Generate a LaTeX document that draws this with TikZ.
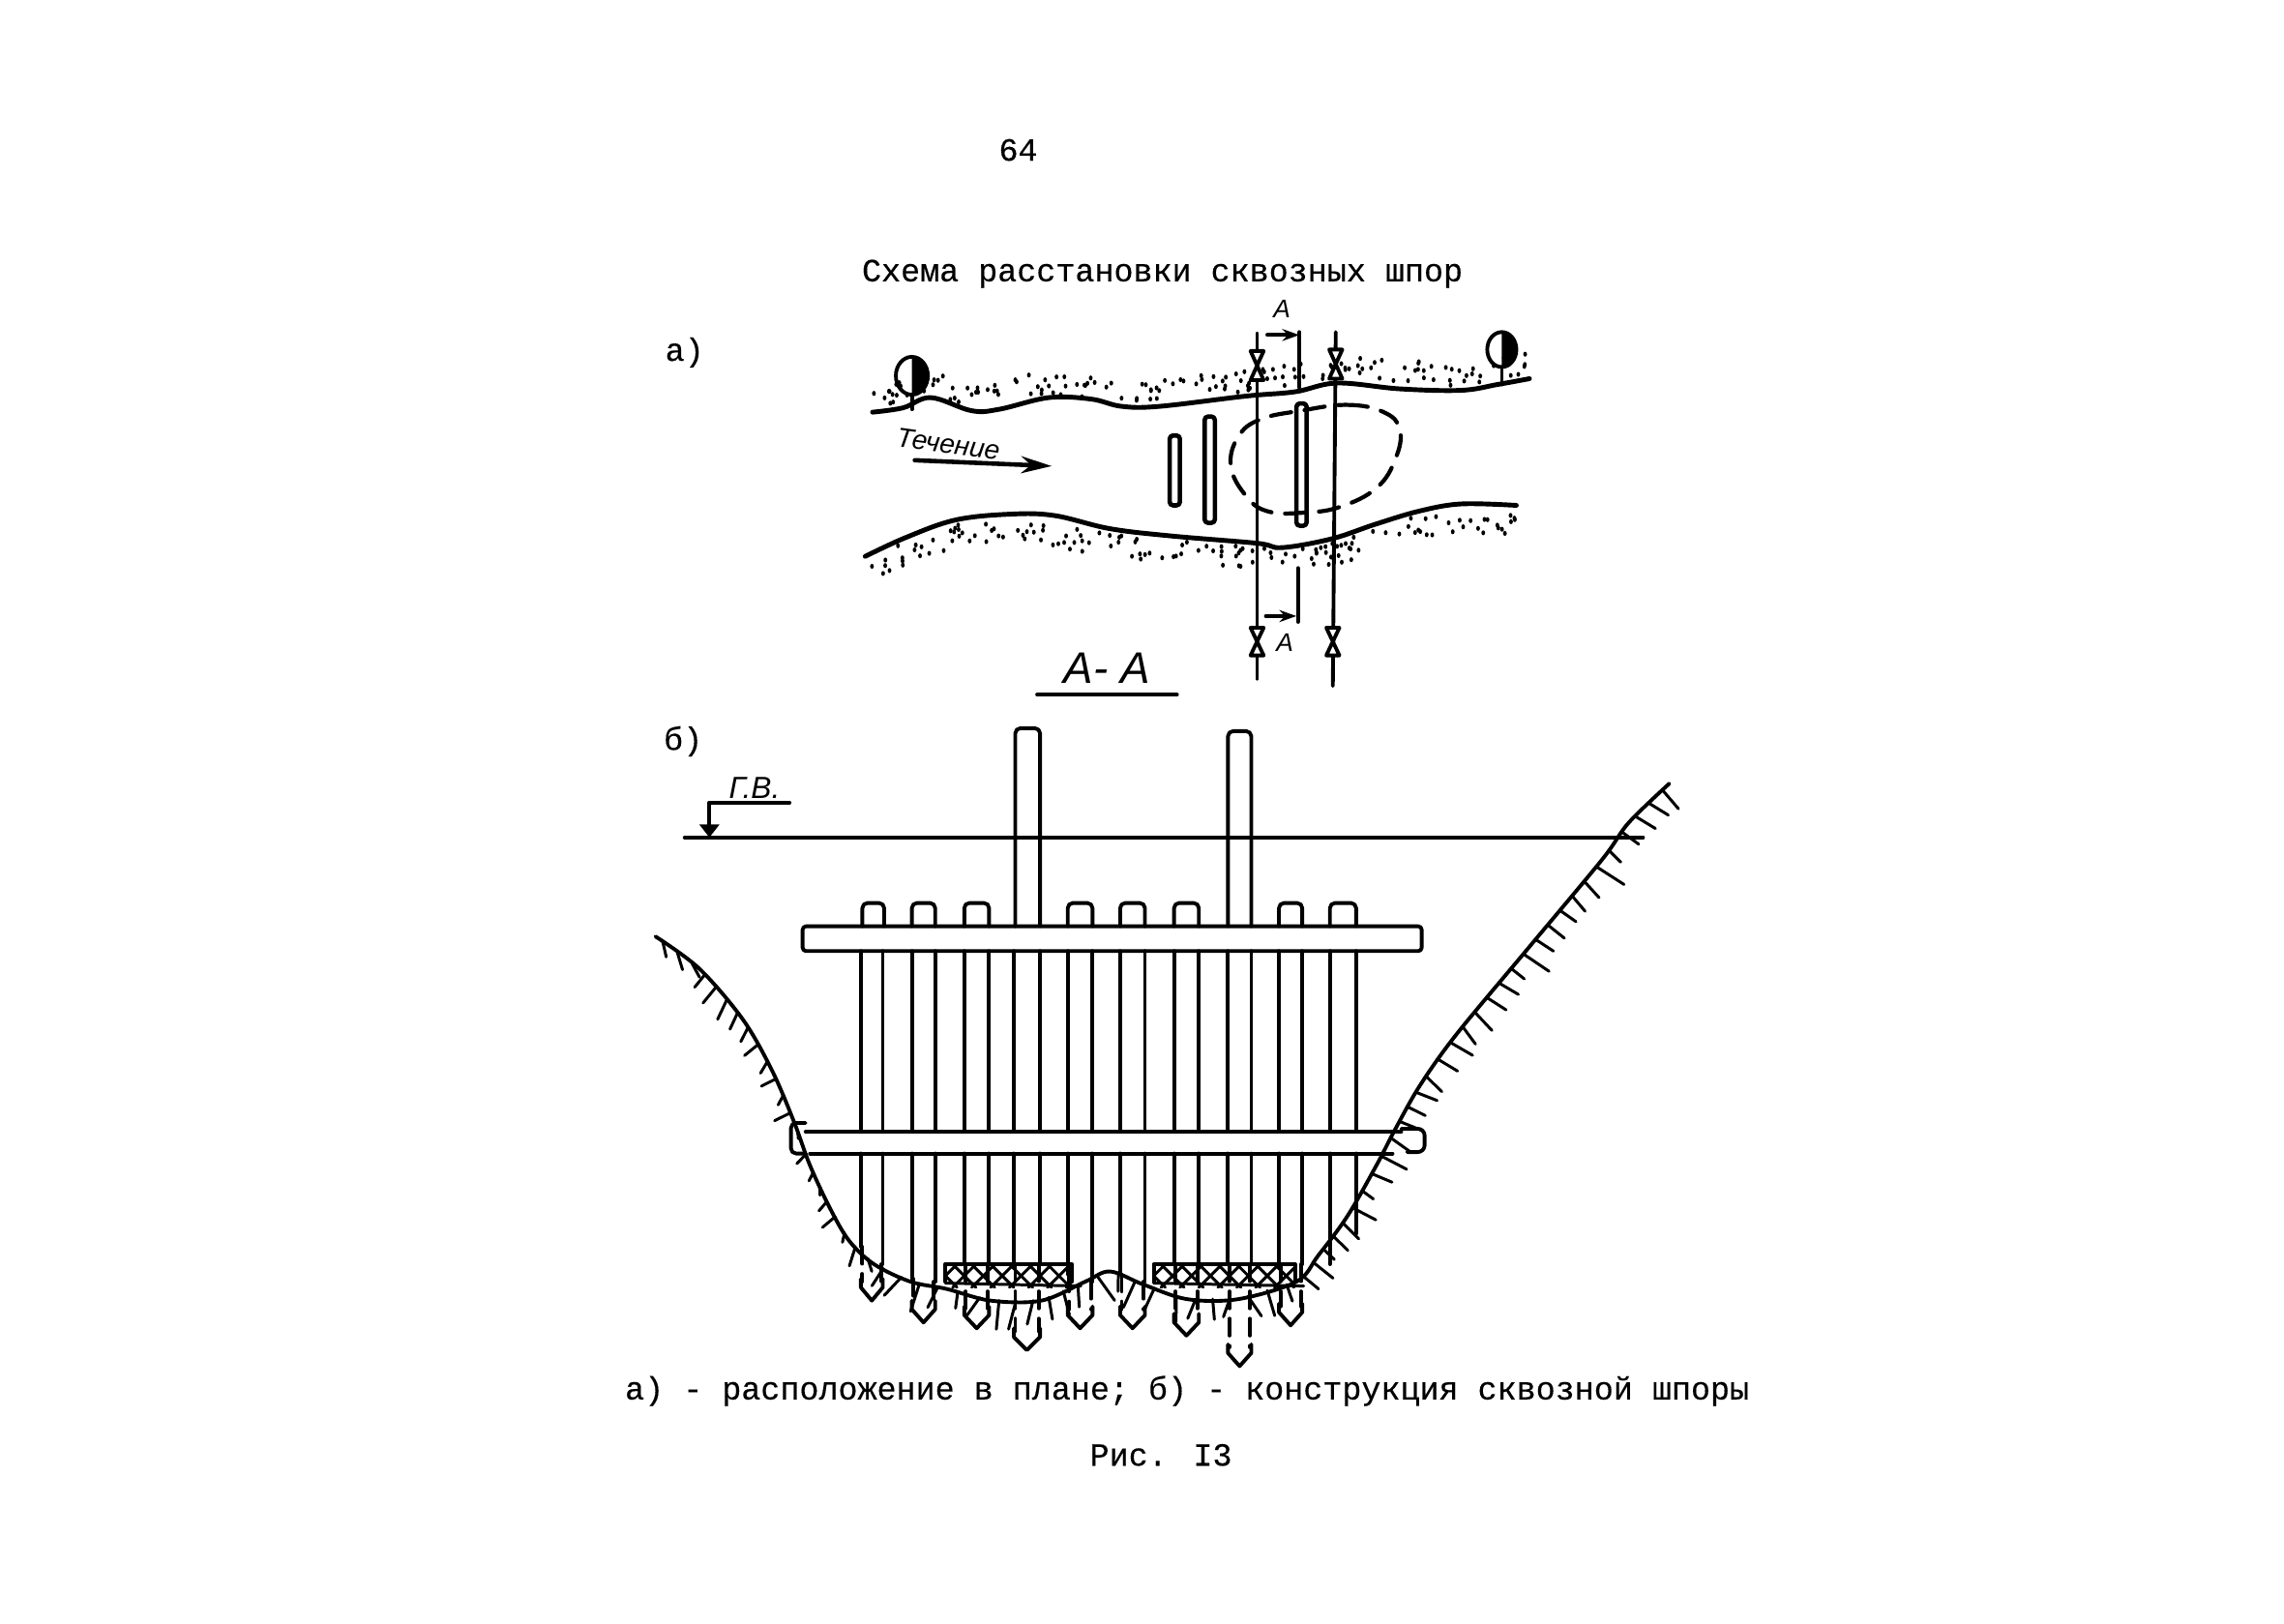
\documentclass[tikz,border=0pt]{standalone}
\usepackage{fontspec}
\setmainfont{Liberation Mono}[BoldFont=Liberation Mono,BoldFeatures={FakeBold=0.35}]
\newfontfamily\hand{Liberation Sans}
\usetikzlibrary{arrows.meta}
\tikzset{
  ink/.style={line width=1.1pt,line cap=round,line join=round,black},
  thin ink/.style={line width=0.85pt,line cap=round,line join=round,black},
  typed/.style={font=\bfseries\fontsize{9.5pt}{11pt}\selectfont,inner sep=0pt,black},
  drawn/.style={font=\hand\itshape\fontsize{7.5pt}{8pt}\selectfont,inner sep=0pt,black},
}
\begin{document}
\begin{tikzpicture}[x=0.15057mm,y=-0.15057mm]
\useasboundingbox[fill=white] (0,0) rectangle (1568,1114.4);
\pgfmathsetseed{4242}

% texts
\node[typed] (pagenum) at (699,103) {64};
\node[typed] (title) at (798,188) {Схема расстановки сквозных шпор};
\node[typed] (labela) at (470,242) {а)};
\node[typed] (labelb) at (469,509) {б)};
\node[typed] (caption) at (815,955) {а) - расположение в плане; б) - конструкция сквозной шпоры};
\node[typed] (fig) at (797,999) {Рис. I3};

% --- plan: banks
\draw[ink,line width=1.4pt] plot[smooth,tension=0.6] coordinates {(599,283) (620,280) (639,273) (667,282) (686,281) (720,273) (749,274) (770,279) (796,279) (855,272) (889,269) (918,263) (961,267) (1003,268) (1028,264) (1050,260)};
\draw[ink,line width=1.4pt] plot[smooth,tension=0.6] coordinates {(594,382) (622,369) (656,357) (694,353) (724,354) (762,363) (804,368) (863,373) (880,376) (914,370) (944,360) (974,351) (1003,346) (1041,347)};

% sand along the banks
\foreach \xa/\ya/\xb/\yb in {599/283/639/273,639/273/667/282,667/282/720/273,720/273/770/279,770/279/855/272,855/272/918/263,918/263/1003/268,1003/268/1050/260}{
  \pgfmathtruncatemacro{\nd}{max(1,(\xb-\xa)/3)}
  \foreach \i in {1,...,\nd}{
    \pgfmathsetmacro{\tt}{rnd}
    \pgfmathsetmacro{\px}{\xa+\tt*(\xb-\xa)}
    \pgfmathsetmacro{\py}{\ya+\tt*(\yb-\ya)-3-rnd*15}
    \fill[black] (\px,\py) ellipse (1.3 and 1.7);
  }
}
\foreach \xa/\ya/\xb/\yb in {594/382/622/369,622/369/656/357,656/357/694/353,694/353/762/363,762/363/863/373,863/373/914/370,914/370/974/351,974/351/1041/347}{
  \pgfmathtruncatemacro{\nd}{max(1,(\xb-\xa)/3)}
  \foreach \i in {1,...,\nd}{
    \pgfmathsetmacro{\tt}{rnd}
    \pgfmathsetmacro{\px}{\xa+\tt*(\xb-\xa)}
    \pgfmathsetmacro{\py}{\ya+\tt*(\yb-\ya)+3+rnd*16}
    \fill[black] (\px,\py) ellipse (1.3 and 1.7);
  }
}

% trees
\draw[ink] (626,258) ellipse (11 and 13);
\fill[black] (626,245) arc[start angle=-90,end angle=90,x radius=11,y radius=13] -- cycle;
\draw[ink] (626,271) -- (626,281);
\draw[ink] (1031,240) ellipse (10 and 12);
\fill[black] (1031,228) arc[start angle=-90,end angle=90,x radius=10,y radius=12] -- cycle;
\draw[ink] (1031,252) -- (1031,264);

% spurs in plan
\draw[ink,line width=1.3pt,rounded corners=1pt] (803,299) rectangle (810,347);
\draw[ink,line width=1.3pt,rounded corners=1pt] (827,286) rectangle (834,359);
\draw[ink,line width=1.3pt,rounded corners=1pt] (890,277) rectangle (897,361);

% scour outline
\draw[ink,line width=1.2pt,dash pattern=on 6pt off 4pt] plot[smooth cycle,tension=0.7] coordinates {(893,282) (925,278) (950,283) (961,295) (958,315) (945,335) (920,348) (895,352) (870,351) (855,340) (845,320) (850,300) (865,288)};

% section lines
\draw[ink] (863,229) -- (863,466);
\draw[ink] (917,228) -- (915,471);
\foreach \px/\ya/\yb in {863/241/261,917/240/260,863/431/450,915/431/450}{
  \draw[ink,fill=white] (\px-4.5,\ya) -- (\px+4.5,\ya) -- (\px-4.5,\yb) -- (\px+4.5,\yb) -- cycle;
}
\draw[ink] (892,228) -- (892,266);
\draw[ink,-{Stealth[length=5pt,width=3.5pt]}] (870,230) -- (892,230);
\draw[ink] (891,390) -- (891,427);
\draw[ink,-{Stealth[length=5pt,width=3.5pt]}] (869,423) -- (890,423);
\node[drawn] (secta) at (880,212) {А};
\node[drawn] (sectb) at (882,441) {А};

% flow
\node[drawn,rotate=-8,font=\hand\itshape\fontsize{8pt}{9pt}\selectfont] (flow) at (651,305) {Течение};
\coordinate (flowa) at (628,316);
\coordinate (flowb) at (722,320);
\draw[ink,line width=1.3pt,-{Stealth[length=9pt,width=5pt]}] (flowa) -- (flowb);

% A-A
\node[drawn,font=\hand\itshape\fontsize{13pt}{14pt}\selectfont] (secttitle) at (760,459) {А- А};
\draw[ink] (712,477) -- (808,477);

% --- section: ground
\draw[ink] plot[smooth,tension=0.55] coordinates {(450,643) (480,665) (510,700) (530,735) (545,770) (556,800) (570,830) (583,852) (600,868) (625,880) (650,885) (680,893) (715,893) (745,880) (762,873) (785,882) (815,892) (850,892) (890,880) (905,862) (925,835) (945,800) (958,775) (975,745) (1000,710) (1050,650) (1100,590) (1118,565) (1146,538)};
% ground hatching
\foreach \xa/\ya/\xb/\yb in {450/643/480/665,480/665/510/700,510/700/530/735,530/735/545/770,545/770/556/800,556/800/570/830,570/830/583/852,583/852/600/868,600/868/625/880,625/880/650/885,650/885/680/893,680/893/715/893,715/893/745/880,745/880/762/873,762/873/785/882,785/882/815/892,815/892/850/892,850/892/890/880,890/880/905/862,905/862/925/835,925/835/945/800,945/800/958/775,958/775/975/745,975/745/1000/710,1000/710/1050/650,1050/650/1100/590,1100/590/1118/565,1118/565/1146/538}{
  \pgfmathsetmacro{\sl}{veclen(\xb-\xa,\yb-\ya)}
  \pgfmathtruncatemacro{\nd}{max(1,round(\sl/13))}
  \foreach \i in {1,...,\nd}{
    \pgfmathsetmacro{\tt}{(\i-0.5)/\nd}
    \pgfmathsetmacro{\px}{\xa+\tt*(\xb-\xa)}
    \pgfmathsetmacro{\py}{\ya+\tt*(\yb-\ya)}
    \pgfmathsetmacro{\tl}{(11+rnd*9)/\sl}
    \pgfmathsetmacro{\jx}{rnd*12-6+(\xa<600)*7}
    \pgfmathsetmacro{\qx}{\px-\tl*(\yb-\ya)+\jx}
    \pgfmathsetmacro{\qy}{\py+\tl*(\xb-\xa)}
    \draw[thin ink] (\px,\py) -- (\qx,\qy);
  }
}

% water level
\draw[ink] (470,575) -- (1128,575);
\draw[ink] (542,551) -- (487,551) -- (487,570);
\fill[black] (480,566) -- (494,566) -- (487,575) -- cycle;
\node[drawn,font=\hand\itshape\fontsize{9pt}{10pt}\selectfont] (gv) at (518,541) {Г.В.};

% tall piles
\draw[ink,rounded corners=1.5pt] (697,636) -- (697,500) -- (714,500) -- (714,636);
\draw[ink,rounded corners=1.5pt] (843,636) -- (843,502) -- (859,502) -- (859,636);

% stubs
\foreach \a/\b in {592/607,626/642,662/679,733/750,769/786,806/823,878/894,913/931}{
  \draw[ink,rounded corners=1.5pt] (\a,636) -- (\a,620) -- (\b,620) -- (\b,636);
}

% waling bars
\draw[ink,rounded corners=1pt] (551,636) rectangle (976,653);
\draw[ink] (553,777) -- (962,777);
\draw[ink] (556,792) -- (956,792);
\draw[ink,rounded corners=1.5pt] (553,771) -- (543,771) -- (543,792) -- (553,792);
\draw[ink,rounded corners=2pt] (962,775) -- (978,775) -- (978,791) -- (966,791);

% piles with buried tips
\foreach \a/\b/\ya/\yb/\t in {591/606/856/868/893,626/642/878/880/908,662/679/868/868/912,696/714/868/868/927,733/750/875/880/912,769/786/875/880/912,806/823/868/868/917,843/859/868/868/938,878/894/868/868/910}{
  \draw[ink] (\a,653) -- (\a,777);
  \draw[ink] (\b,653) -- (\b,777);
  \draw[ink] (\a,792) -- (\a,\ya);
  \draw[ink] (\b,792) -- (\b,\yb);
  \draw[ink,dash pattern=on 5pt off 3pt] (\a+1,\ya) -- (\a+1,\t-13);
  \draw[ink,dash pattern=on 5pt off 3pt] (\b-1,\yb) -- (\b-1,\t-13);
  \draw[ink] (\a,\t-15) -- (\a,\t-9) -- ({(\a+\b)/2},\t) -- (\b,\t-9) -- (\b,\t-15);
}
\draw[ink] (913,653) -- (913,777);
\draw[ink] (931,653) -- (931,777);
\draw[ink] (913,792) -- (913,868);
\draw[ink] (931,792) -- (931,847);

% stone mattresses
\foreach \xa/\xb in {649/736,792/889}{
  \begin{scope}
    \clip (\xa,868) rectangle (\xb,884);
    \foreach \k in {0,...,8}{
      \draw[thin ink] (\xa+\k*13-8,868) -- (\xa+\k*13+8,884);
      \draw[thin ink] (\xa+\k*13+8,868) -- (\xa+\k*13-8,884);
    }
  \end{scope}
  \draw[ink] (\xa,880) -- (\xa,868) -- (\xb,868) -- (\xb,880);
  \draw[thin ink] (\xa,881) -- (\xb+6,883);
}
\end{tikzpicture}
\end{document}
